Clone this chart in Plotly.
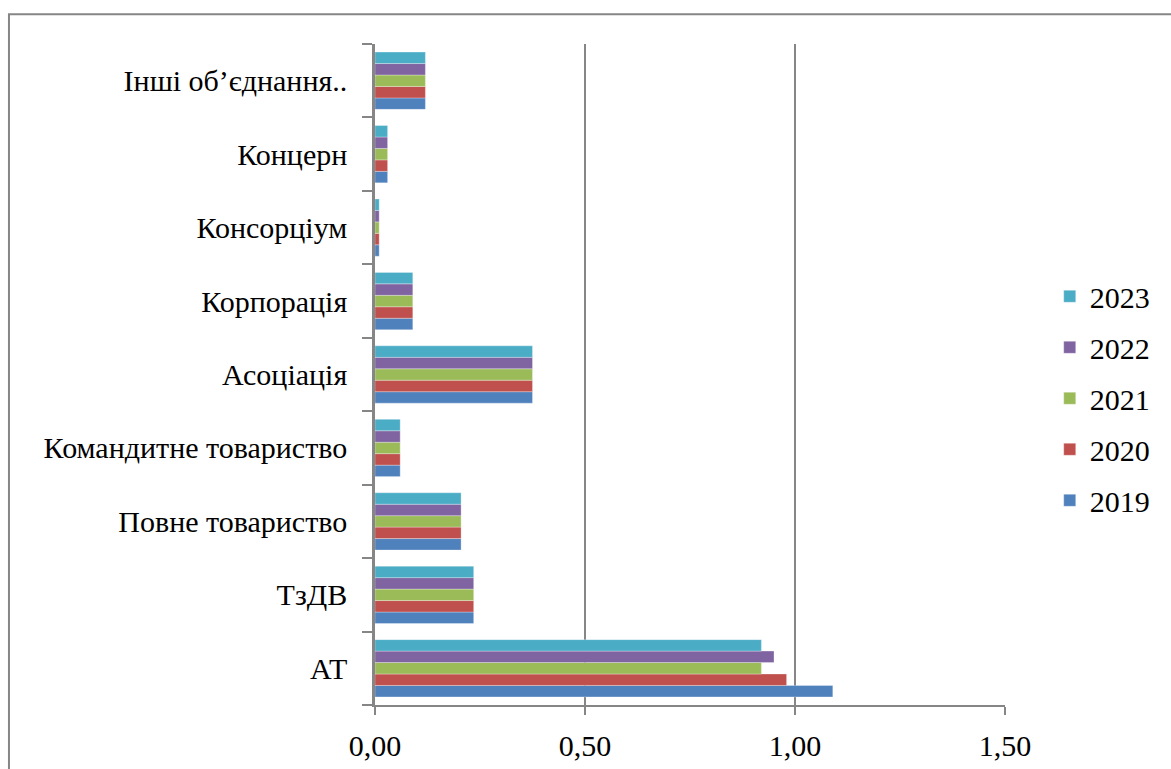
import plotly.graph_objects as go

categories = ["АТ", "ТзДВ", "Повне товариство", "Командитне товариство", "Асоціація",
              "Корпорація", "Консорціум", "Концерн", "Інші об’єднання.."]
years = ["2019", "2020", "2021", "2022", "2023"]
v2019 = [1.09, 0.235, 0.205, 0.06, 0.375, 0.09, 0.01, 0.03, 0.12]
v2020 = [0.98, 0.235, 0.205, 0.06, 0.375, 0.09, 0.01, 0.03, 0.12]
v2021 = [0.92, 0.235, 0.205, 0.06, 0.375, 0.09, 0.01, 0.03, 0.12]
v2022 = [0.95, 0.235, 0.205, 0.06, 0.375, 0.09, 0.01, 0.03, 0.12]
v2023 = [0.92, 0.235, 0.205, 0.06, 0.375, 0.09, 0.01, 0.03, 0.12]
series = [v2019, v2020, v2021, v2022, v2023]
colors = ["#4F81BD", "#C0504D", "#9BBB59", "#8064A2", "#4BACC6"]
x_ticks = [0, 0.5, 1.0, 1.5]

FONT = "Liberation Serif"
FS = 30

fig = go.Figure()
for i, (name, vals, col) in enumerate(zip(years, series, colors)):
    fig.add_trace(go.Bar(
        y=categories, x=vals, name=name, orientation="h", legendgroup=name,
        legendrank=len(years) - i,
        marker=dict(color=col, line=dict(color="rgba(255,255,255,0.6)", width=0.5)),
    ))

fig.update_layout(
    width=1171, height=769,
    margin=dict(l=375, r=166, t=44, b=64, autoexpand=False),
    paper_bgcolor="white", plot_bgcolor="white",
    barmode="group", bargap=0.22, bargroupgap=0,
    separators=", ",
    font=dict(family=FONT, size=FS, color="black"),
    showlegend=True,
    legend=dict(traceorder="grouped", tracegroupgap=9,
                x=1.071, y=0.464, xanchor="left", yanchor="middle",
                font=dict(family=FONT, size=FS), itemwidth=30, bgcolor="rgba(0,0,0,0)"),
    xaxis=dict(range=[0, 1.5], tickvals=x_ticks, tickformat=".2f", automargin=False,
               showgrid=True, gridcolor="#868686", gridwidth=1.5,
               showline=True, linecolor="#868686", linewidth=1.5,
               ticks="outside", ticklen=8, tickcolor="#868686", tickwidth=1.5,
               zeroline=False, tickfont=dict(family=FONT, size=FS), ticklabelstandoff=5),
    yaxis=dict(type="category", categoryorder="array", categoryarray=categories,
               automargin=False,
               showline=True, linecolor="#868686", linewidth=2.5,
               ticks="outside", ticklen=10, tickcolor="#868686", tickwidth=2,
               tickson="boundaries", showgrid=False,
               tickfont=dict(family=FONT, size=FS), ticklabelstandoff=19),
    shapes=[dict(type="rect", xref="paper", yref="paper",
                 x0=-0.581, x1=1.3, y0=-0.2, y1=1.045,
                 line=dict(color="#868686", width=2), fillcolor="rgba(0,0,0,0)", layer="below")],
)

fig.write_html("out.html", config={"displayModeBar": False},
               post_script="document.body.style.margin='0';document.body.style.overflow='hidden';")
